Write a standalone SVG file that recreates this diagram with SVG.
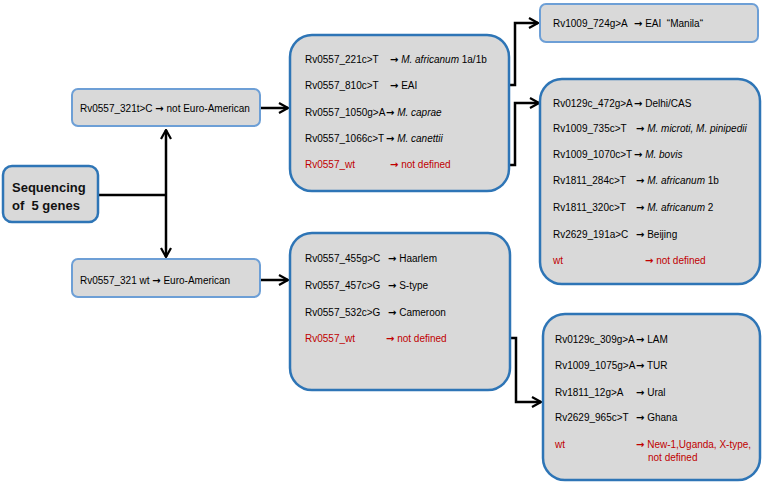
<svg xmlns="http://www.w3.org/2000/svg" width="765" height="483" viewBox="0 0 765 483">
<style>
.bx{fill:#d9d9d9;stroke:#2e75b6;stroke-width:2.5}
.sb{fill:#d9d9d9;stroke:#6d9fd6;stroke-width:2}
.t{font-family:"Liberation Sans",Arial,sans-serif;font-size:10px;fill:#000}
.r{fill:#c00000}
.i{font-style:italic}
.a{font-family:"DejaVu Sans",sans-serif;font-weight:bold}
.h{font-family:"Liberation Sans",Arial,sans-serif;font-size:13px;font-weight:bold;fill:#111}
.c{fill:none;stroke:#000;stroke-width:2.5}
</style>
<defs>
<marker id="ah" viewBox="0 0 12 12" refX="11" refY="6" markerWidth="12" markerHeight="12" markerUnits="userSpaceOnUse" orient="auto-start-reverse">
<path d="M2,1 L11,6 L2,11" fill="none" stroke="#000" stroke-width="2.2"/>
</marker>
</defs>
<rect width="765" height="483" fill="#fff"/>
<g id="connectors">
<path class="c" d="M166,130 V257" marker-start="url(#ah)" marker-end="url(#ah)"/>
<path class="c" d="M98,195 H166"/>
<path class="c" d="M260,108 H288" marker-end="url(#ah)"/>
<path class="c" d="M260,280 H288" marker-end="url(#ah)"/>
<path class="c" d="M477,85 H515 V23 H538" marker-end="url(#ah)"/>
<path class="c" d="M477,165 H515 V103 H539" marker-end="url(#ah)"/>
<path class="c" d="M477,338 H516 V402 H541" marker-end="url(#ah)"/>
</g>
<g id="seq">
<rect class="bx" x="3" y="166" width="95" height="56" rx="9"/>
<text class="h" x="12" y="192">Sequencing</text>
<text class="h" x="12" y="210" xml:space="preserve">of  5 genes</text>
</g>
<g id="notEA">
<rect class="sb" x="72" y="89" width="188" height="37" rx="6"/>
<text class="t" x="80" y="111.5">Rv0557_321t&gt;C <tspan class="a">→</tspan> not Euro-American</text>
</g>
<g id="EA">
<rect class="sb" x="72" y="259" width="188" height="38" rx="6"/>
<text class="t" x="80" y="283.5">Rv0557_321 wt <tspan class="a">→</tspan> Euro-American</text>
</g>
<g id="box1">
<rect class="bx" x="290" y="35" width="219" height="156" rx="22"/>
<text class="t" x="305" y="62.5">Rv0557_221c&gt;T</text><text class="t" x="390" y="62.5"><tspan class="a">→</tspan> <tspan class="i">M. africanum</tspan> 1a/1b</text>
<text class="t" x="305" y="88.5">Rv0557_810c&gt;T</text><text class="t" x="390" y="88.5"><tspan class="a">→</tspan> EAI</text>
<text class="t" x="305" y="115.5">Rv0557_1050g&gt;A</text><text class="t" x="386" y="115.5"><tspan class="a">→</tspan> <tspan class="i">M. caprae</tspan></text>
<text class="t" x="305" y="141.5">Rv0557_1066c&gt;T</text><text class="t" x="386" y="141.5"><tspan class="a">→</tspan> <tspan class="i">M. canettii</tspan></text>
<text class="t r" x="305" y="167.5">Rv0557_wt</text><text class="t r" x="390" y="167.5"><tspan class="a">→</tspan> not defined</text>
</g>
<g id="manila">
<rect class="sb" x="540" y="4" width="218" height="38" rx="6"/>
<text class="t" x="553" y="26.5">Rv1009_724g&gt;A</text><text class="t" x="634" y="26.5" xml:space="preserve"><tspan class="a">→</tspan> EAI  “Manila“</text>
</g>
<g id="box2">
<rect class="bx" x="540" y="79" width="220" height="205" rx="22"/>
<text class="t" x="553" y="106.5">Rv0129c_472g&gt;A</text><text class="t" x="634" y="106.5"><tspan class="a">→</tspan> Delhi/CAS</text>
<text class="t" x="553" y="131.5">Rv1009_735c&gt;T</text><text class="t" x="636" y="131.5"><tspan class="a">→</tspan> <tspan class="i">M. microti, M. pinipedii</tspan></text>
<text class="t" x="553" y="157.5">Rv1009_1070c&gt;T</text><text class="t" x="634" y="157.5"><tspan class="a">→</tspan> <tspan class="i">M. bovis</tspan></text>
<text class="t" x="553" y="183.5">Rv1811_284c&gt;T</text><text class="t" x="636" y="183.5"><tspan class="a">→</tspan> <tspan class="i">M. africanum</tspan> 1b</text>
<text class="t" x="553" y="210.5">Rv1811_320c&gt;T</text><text class="t" x="636" y="210.5"><tspan class="a">→</tspan> <tspan class="i">M. africanum</tspan> 2</text>
<text class="t" x="553" y="237.5">Rv2629_191a&gt;C</text><text class="t" x="636" y="237.5"><tspan class="a">→</tspan> Beijing</text>
<text class="t r" x="553" y="263.5">wt</text><text class="t r" x="645" y="263.5"><tspan class="a">→</tspan> not defined</text>
</g>
<g id="box3">
<rect class="bx" x="290" y="233" width="220" height="157" rx="22"/>
<text class="t" x="305" y="261.5">Rv0557_455g&gt;C</text><text class="t" x="388" y="261.5"><tspan class="a">→</tspan> Haarlem</text>
<text class="t" x="305" y="288.5">Rv0557_457c&gt;G</text><text class="t" x="388" y="288.5"><tspan class="a">→</tspan> S-type</text>
<text class="t" x="305" y="315.5">Rv0557_532c&gt;G</text><text class="t" x="388" y="315.5"><tspan class="a">→</tspan> Cameroon</text>
<text class="t r" x="305" y="341.5">Rv0557_wt</text><text class="t r" x="386" y="341.5"><tspan class="a">→</tspan> not defined</text>
</g>
<g id="box4">
<rect class="bx" x="543" y="314" width="217" height="166" rx="22"/>
<text class="t" x="555" y="342.5">Rv0129c_309g&gt;A</text><text class="t" x="636" y="342.5"><tspan class="a">→</tspan> LAM</text>
<text class="t" x="555" y="368.5">Rv1009_1075g&gt;A</text><text class="t" x="636" y="368.5"><tspan class="a">→</tspan> TUR</text>
<text class="t" x="555" y="395.5">Rv1811_12g&gt;A</text><text class="t" x="636" y="395.5"><tspan class="a">→</tspan> Ural</text>
<text class="t" x="555" y="420.5">Rv2629_965c&gt;T</text><text class="t" x="636" y="420.5"><tspan class="a">→</tspan> Ghana</text>
<text class="t r" x="555" y="447.5">wt</text><text class="t r" x="636" y="447.5"><tspan class="a">→</tspan> New-1,Uganda, X-type,</text>
<text class="t r" x="648" y="460.5">not defined</text>
</g>
</svg>
